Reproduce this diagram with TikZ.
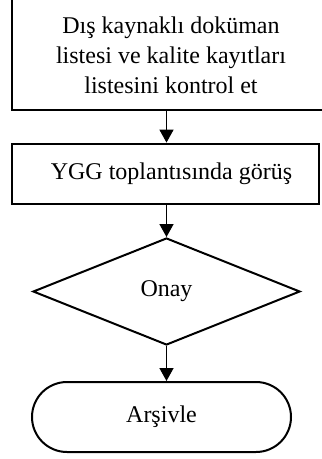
\documentclass[tikz,border=0pt]{standalone}
\usepackage{fontspec}
\setmainfont{Liberation Serif}
\usetikzlibrary{arrows.meta,shapes.geometric,shapes.misc}
\begin{document}
\begin{tikzpicture}[x=1pt,y=-1pt,
  boxstyle/.style={draw, rectangle, line width=2.8pt, inner sep=0pt},
  lbl/.style={font=\fontsize{24}{30}\selectfont, align=center, inner sep=0pt},
  decision/.style={draw, diamond, line width=2pt, inner sep=0pt},
  terminal/.style={draw, rounded rectangle, line width=2pt, inner sep=0pt},
  arr/.style={line width=1.6pt, -{Triangle[width=14pt,length=13pt]}}]
\useasboundingbox (0,0) rectangle (322,459);
\node[boxstyle, minimum width=318pt, minimum height=120pt] (b1) at (171,50) {};
\node[lbl] (t1) at (171,55) {Dış kaynaklı doküman\\listesi ve kalite kayıtları\\listesini kontrol et};
\node[boxstyle, lbl, minimum width=307pt, minimum height=60pt] (b2) at (165.5,174) {\hspace*{12pt}YGG toplantısında görüş};
\node[decision, lbl, minimum width=267pt, minimum height=107pt] (d) at (166.5,291.5) {Onay};
\node[terminal, lbl, minimum width=259pt, minimum height=70pt] (t) at (161.5,417) {Arşivle};
\draw[arr] (b1.south -| d.north) -- (b2.north -| d.north);
\draw[arr] (b2.south -| d.north) -- (d.north);
\draw[arr] (d.south) -- (t.north -| d.south);
\end{tikzpicture}
\end{document}
